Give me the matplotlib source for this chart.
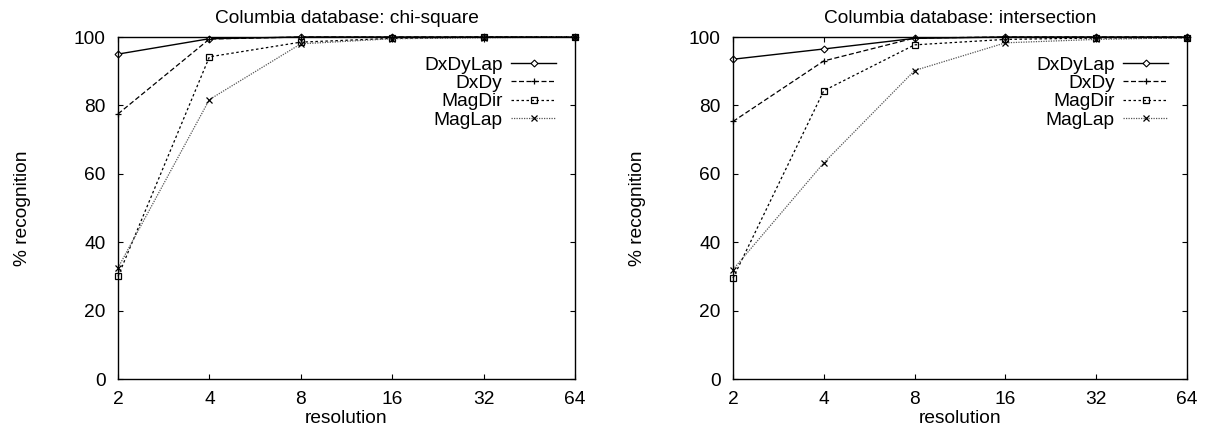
import matplotlib
matplotlib.use("Agg")
import matplotlib.pyplot as plt
from matplotlib.ticker import FixedLocator, FixedFormatter, NullLocator

plt.rcParams['font.family'] = ['Liberation Sans', 'DejaVu Sans']

resolution = [2, 4, 8, 16, 32, 64]
series_names = ["DxDyLap", "DxDy", "MagDir", "MagLap"]

chi_dxdylap = [95.0, 99.5, 100, 100, 100, 100]
chi_dxdy = [77.5, 99.4, 100, 100, 100, 100]
chi_magdir = [30.0, 94.2, 98.5, 99.6, 100, 100]
chi_maglap = [32.5, 81.7, 98.0, 99.5, 99.8, 100]

int_dxdylap = [93.5, 96.5, 99.6, 100, 100, 100]
int_dxdy = [75.3, 93.0, 99.7, 100, 100, 100]
int_magdir = [29.5, 84.3, 97.7, 99.3, 99.7, 99.8]
int_maglap = [32.0, 63.2, 90.2, 98.3, 99.3, 99.8]

yticks = [0, 20, 40, 60, 80, 100]
xticklabels = ["2", "4", "8", "16", "32", "64"]

FS = 13.8

styles = [
    dict(color='black', linestyle='-', linewidth=1.0, marker='D', markersize=3.5,
         markerfacecolor='white', markeredgewidth=0.8),
    dict(color='black', linestyle=(0, (4, 2)), linewidth=0.9, marker='+', markersize=5,
         markeredgewidth=0.9),
    dict(color='black', linestyle=(0, (2, 2)), linewidth=0.9, marker='s', markersize=5,
         markerfacecolor='none', markeredgewidth=0.9),
    dict(color='#555555', linestyle=(0, (1, 1)), linewidth=0.9, marker='x', markersize=5,
         markeredgewidth=0.9, markeredgecolor='black'),
]

fig = plt.figure(figsize=(12.23, 4.30), dpi=100)
W, H = 1223, 430
ax1 = fig.add_axes([118 / W, 1 - 379 / H, (575 - 118) / W, (379 - 37) / H])
ax2 = fig.add_axes([733 / W, 1 - 379 / H, (1187 - 733) / W, (379 - 37) / H])

panels = [
    (ax1, "Columbia database: chi-square", [chi_dxdylap, chi_dxdy, chi_magdir, chi_maglap]),
    (ax2, "Columbia database: intersection", [int_dxdylap, int_dxdy, int_magdir, int_maglap]),
]

for ax, title, data in panels:
    for name, vals, st in zip(series_names, data, styles):
        ax.plot(resolution, vals, label=name, clip_on=False, **st)
    ax.set_xscale('log', base=2)
    ax.set_xlim(2, 64)
    ax.set_ylim(0, 100)
    ax.xaxis.set_major_locator(FixedLocator(resolution))
    ax.xaxis.set_major_formatter(FixedFormatter(xticklabels))
    ax.xaxis.set_minor_locator(NullLocator())
    ax.set_yticks(yticks)
    ax.tick_params(direction='in', top=True, right=True, length=3.6, width=0.8,
                   labelsize=FS)
    ax.tick_params(axis='y', pad=9)
    ax.tick_params(axis='x', pad=9)
    for s in ax.spines.values():
        s.set_linewidth(1.0)
    ax.set_xlabel("resolution", fontsize=FS, labelpad=1)
    ax.set_ylabel("% recognition", fontsize=FS, labelpad=31)
    ax.set_title(title, fontsize=FS, pad=10)
    leg = ax.legend(loc='upper right', bbox_to_anchor=(0.959, 0.944), frameon=False,
                    markerfirst=False, fontsize=FS, handlelength=2.35,
                    labelspacing=0.05, borderaxespad=0.0, borderpad=0.0,
                    handletextpad=0.45)
    for t in leg.get_texts():
        t.set_ha('right')

fig.savefig("out.png", dpi=100)
